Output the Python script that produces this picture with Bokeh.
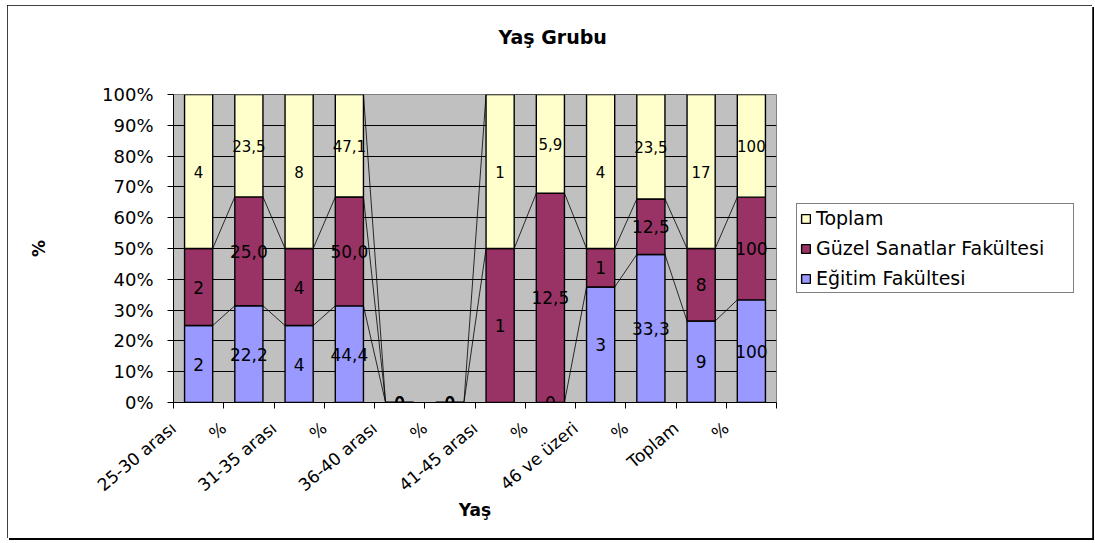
import numpy as np
from math import pi
from bokeh.plotting import figure
from bokeh.models import (ColumnDataSource, FixedTicker, PrintfTickFormatter,
                          LabelSet, Legend, LegendItem, Range1d, Title)
from bokeh.core.properties import value
from bokeh.embed import file_html
from bokeh.resources import INLINE

# ---------------- data ----------------
categories = ["25-30 arası", "%", "31-35 arası", "%", "36-40 arası", "%",
              "41-45 arası", "%", "46 ve üzeri", "%", "Toplam", "%"]
is_pct = [False, True, False, True, False, True, False, True, False, True, False, True]
egitim = [2, 22.2, 4, 44.4, 0, 0, None, 0, 3, 33.3, 9, 100]
guzel = [2, 25.0, 4, 50.0, 0, 0, 1, 12.5, 1, 12.5, 8, 100]
toplam = [4, 23.5, 8, 47.1, 0, 0, 1, 5.9, 4, 23.5, 17, 100]
series_names = ["Eğitim Fakültesi", "Güzel Sanatlar Fakültesi", "Toplam"]
series_colors = ["#9999FF", "#993366", "#FFFFCC"]
y_ticks = list(range(0, 101, 10))
title_text = "Yaş Grubu"
x_title = "Yaş"
y_title = "%"

FONT = "DejaVu Sans"

# ---------------- 100% stacking ----------------
n = len(categories)
xc = np.arange(n) + 0.5
raw = [egitim, guzel, toplam]
vals = np.array([[0.0 if v is None else float(v) for v in s] for s in raw])
tot = vals.sum(axis=0)
share = np.where(tot > 0, vals / np.where(tot > 0, tot, 1) * 100.0, 0.0)
tops = np.cumsum(share, axis=0)
bottoms = tops - share
bar_w = 0.56


def fmt(v, pct):
    if v is None:
        return ""
    if (not pct) or v in (0, 100):
        return f"{v:g}"
    return f"{v:.1f}".replace(".", ",")


p = figure(frame_width=603, frame_height=308, x_range=Range1d(0, n), y_range=Range1d(0, 100),
           output_backend="svg", toolbar_location=None, title=None,
           min_border_left=166, min_border_top=89, min_border_right=316, min_border_bottom=136,
           background_fill_color="#C0C0C0", border_fill_color="white")
p.styles = {"margin-left": "7px", "margin-top": "5px",
            "width": "1085px", "max-width": "1085px",
            "outline": "1px solid black", "outline-offset": "-1px",
            "box-shadow": "2px 2px 0 0 black"}
p.outline_line_color = "#808080"
p.outline_line_width = 1

# title: an empty spacer line next to the frame, then the real title above it
p.add_layout(Title(text=" ", text_font_size="26px", text_font=FONT), "above")
p.add_layout(Title(text=title_text, text_font=FONT, text_font_style="bold",
                   text_font_size="19px", text_color="black", align="left", offset=325), "above")

p.xgrid.visible = False
p.ygrid.ticker = FixedTicker(ticks=y_ticks)
p.ygrid.grid_line_color = "black"
p.ygrid.grid_line_width = 1

p.yaxis.ticker = FixedTicker(ticks=y_ticks)
p.yaxis.formatter = PrintfTickFormatter(format="%d%%")
p.yaxis.major_label_text_font = FONT
p.yaxis.major_label_text_font_size = "18px"
p.yaxis.major_label_text_color = "black"
p.yaxis.major_tick_out = 6
p.yaxis.major_tick_in = 0
p.yaxis.minor_tick_line_color = None
p.yaxis.axis_line_color = "black"
p.yaxis.major_tick_line_color = "black"
p.yaxis.major_label_standoff = 14
p.yaxis.axis_label = y_title
p.yaxis.axis_label_text_font = FONT
p.yaxis.axis_label_text_font_style = "bold"
p.yaxis.axis_label_text_font_size = "17px"
p.yaxis.axis_label_text_color = "black"
p.yaxis.axis_label_standoff = 50

p.xaxis.ticker = FixedTicker(ticks=list(range(n + 1)))
p.xaxis.major_label_overrides = {**{i: categories[i] for i in range(n)}, n: ""}
p.xaxis.major_label_orientation = 40 * pi / 180
p.xaxis.major_label_text_font = FONT
p.xaxis.major_label_text_font_size = "17px"
p.xaxis.major_label_text_color = "black"
p.xaxis.major_label_standoff = 17
p.xaxis.major_tick_out = 6
p.xaxis.major_tick_in = 0
p.xaxis.minor_tick_line_color = None
p.xaxis.axis_line_color = "black"
p.xaxis.major_tick_line_color = "black"
p.xaxis.axis_label = x_title
p.xaxis.axis_label_text_font = FONT
p.xaxis.axis_label_text_font_style = "bold"
p.xaxis.axis_label_text_font_size = "17px"
p.xaxis.axis_label_text_color = "black"
p.xaxis.axis_label_standoff = -6

# series lines
sx0, sy0, sx1, sy1 = [], [], [], []
for s in range(3):
    for i in range(n - 1):
        sx0.append(xc[i] + bar_w / 2)
        sx1.append(xc[i + 1] - bar_w / 2)
        sy0.append(tops[s, i])
        sy1.append(tops[s, i + 1])
p.segment(x0=sx0, y0=sy0, x1=sx1, y1=sy1, line_color="black", line_width=0.8)

renderers = []
for s in range(3):
    src = ColumnDataSource(dict(x=xc, top=tops[s], bottom=bottoms[s]))
    r = p.vbar(x="x", width=bar_w, top="top", bottom="bottom", source=src,
               fill_color=series_colors[s], line_color="black", line_width=1.4)
    renderers.append(r)

# value labels
for s in range(3):
    texts = [fmt(raw[s][i], is_pct[i]) for i in range(n)]
    ys = (tops[s] + bottoms[s]) / 2
    lsrc = ColumnDataSource(dict(x=xc, y=ys, t=texts))
    ls = LabelSet(x="x", y="y", text="t", source=lsrc, text_align="center",
                  text_baseline="middle", text_font=value(FONT),
                  text_font_size=value("15px" if s == 2 else "17px"), text_color="black")
    p.add_layout(ls)

legend = Legend(items=[LegendItem(label=series_names[s], renderers=[renderers[s]]) for s in (2, 1, 0)],
                location="center_left", orientation="vertical", margin=20,
                label_text_font=FONT, label_text_font_size="19px", label_text_color="black",
                glyph_width=11, glyph_height=11, label_height=22, label_width=254,
                spacing=8, padding=3,
                label_standoff=5, border_line_color="black", border_line_width=1,
                background_fill_color="white", background_fill_alpha=1)
p.add_layout(legend, "right")

open("out.html", "w").write(file_html(p, INLINE))
